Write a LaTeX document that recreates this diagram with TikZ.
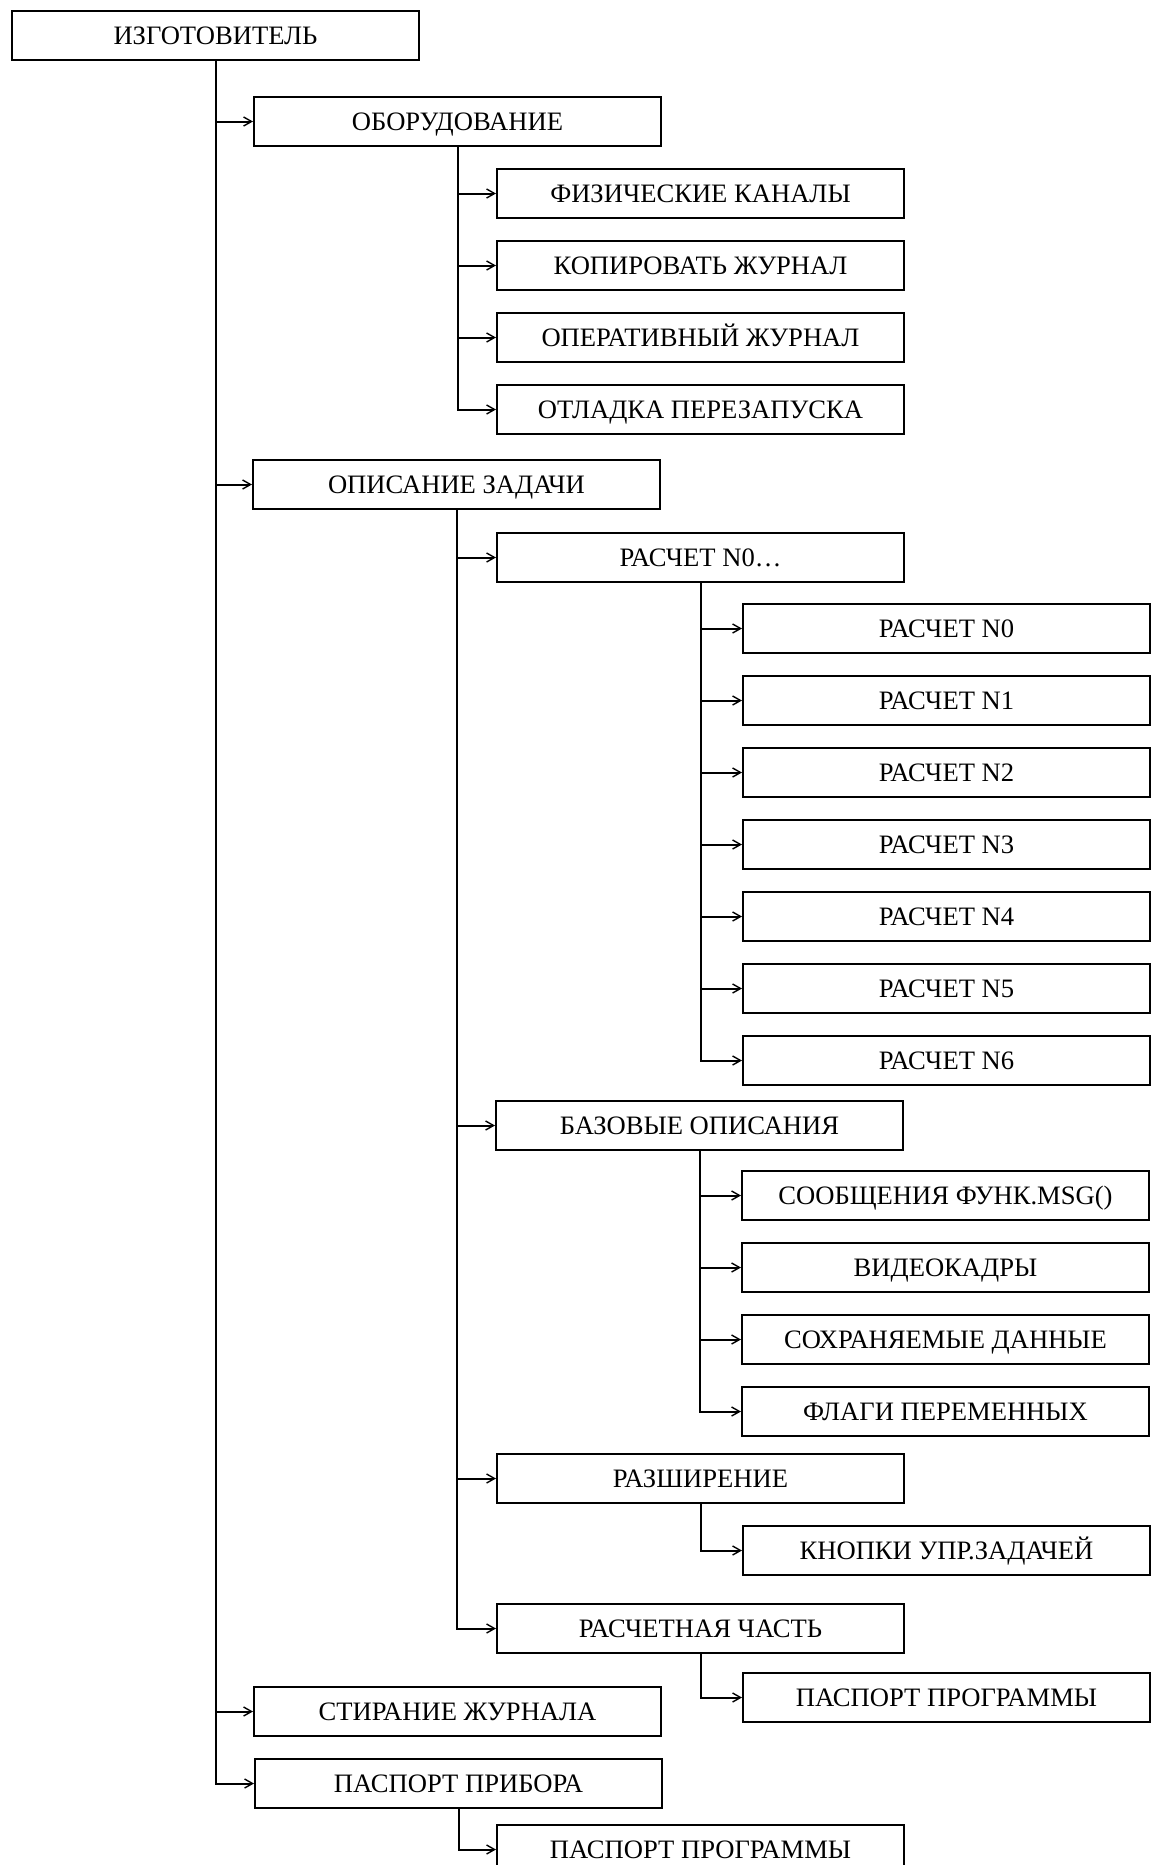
\documentclass[tikz,border=0pt]{standalone}
\usepackage{fontspec}
\setmainfont{Liberation Serif}
\usetikzlibrary{arrows.meta}
\tikzset{
  box/.style={draw, line width=1pt, minimum width=203.5pt, minimum height=24.5pt,
    anchor=north west, inner sep=0pt, text height=8.8pt, text depth=0pt,
    font=\fontsize{13.3}{15}\selectfont},
  conn/.style={line width=1pt, -{Straight Barb[length=4pt,width=4.5pt,line width=0.7pt]}},
}
\begin{document}
\begin{tikzpicture}[x=0.5pt,y=-0.5pt]
\useasboundingbox (0,0) rectangle (1154,1865);
\clip (0,0) rectangle (1154,1865);
\fill[white] (0,0) rectangle (1154,1865);
% level 0
\node[box] (A) at (11,10) {ИЗГОТОВИТЕЛЬ};
% level 1
\node[box] (B1) at (253,96) {ОБОРУДОВАНИЕ};
\node[box] (B2) at (252,459) {ОПИСАНИЕ ЗАДАЧИ};
\node[box] (B3) at (253,1686) {СТИРАНИЕ ЖУРНАЛА};
\node[box] (B4) at (254,1758) {ПАСПОРТ ПРИБОРА};
% under ОБОРУДОВАНИЕ
\node[box] (C1) at (496,168) {ФИЗИЧЕСКИЕ КАНАЛЫ};
\node[box] (C2) at (496,240) {КОПИРОВАТЬ ЖУРНАЛ};
\node[box] (C3) at (496,312) {ОПЕРАТИВНЫЙ ЖУРНАЛ};
\node[box] (C4) at (496,384) {ОТЛАДКА ПЕРЕЗАПУСКА};
% under ОПИСАНИЕ ЗАДАЧИ
\node[box] (D1) at (496,532) {РАСЧЕТ N0\ldots};
\node[box] (D2) at (495,1100) {БАЗОВЫЕ ОПИСАНИЯ};
\node[box] (D3) at (496,1453) {РАЗШИРЕНИЕ};
\node[box] (D4) at (496,1603) {РАСЧЕТНАЯ ЧАСТЬ};
% under РАСЧЕТ N0...
\node[box] (E0) at (742,603) {РАСЧЕТ N0};
\node[box] (E1) at (742,675) {РАСЧЕТ N1};
\node[box] (E2) at (742,747) {РАСЧЕТ N2};
\node[box] (E3) at (742,819) {РАСЧЕТ N3};
\node[box] (E4) at (742,891) {РАСЧЕТ N4};
\node[box] (E5) at (742,963) {РАСЧЕТ N5};
\node[box] (E6) at (742,1035) {РАСЧЕТ N6};
% under БАЗОВЫЕ ОПИСАНИЯ
\node[box] (F1) at (741,1170) {СООБЩЕНИЯ ФУНК.MSG()};
\node[box] (F2) at (741,1242) {ВИДЕОКАДРЫ};
\node[box] (F3) at (741,1314) {СОХРАНЯЕМЫЕ ДАННЫЕ};
\node[box] (F4) at (741,1386) {ФЛАГИ ПЕРЕМЕННЫХ};
% under РАЗШИРЕНИЕ / РАСЧЕТНАЯ ЧАСТЬ
\node[box] (G1) at (742,1525) {КНОПКИ УПР.ЗАДАЧЕЙ};
\node[box] (G2) at (742,1672) {ПАСПОРТ ПРОГРАММЫ};
% under ПАСПОРТ ПРИБОРА
\node[box] (H) at (496,1824) {ПАСПОРТ ПРОГРАММЫ};
% connectors
\foreach \c in {B1,B2,B3,B4} \draw[conn] (A.south) |- (\c.west);
\foreach \c in {C1,C2,C3,C4} \draw[conn] (B1.south) |- (\c.west);
\foreach \c in {D1,D2,D3,D4} \draw[conn] (B2.south) |- (\c.west);
\foreach \c in {E0,E1,E2,E3,E4,E5,E6} \draw[conn] (D1.south) |- (\c.west);
\foreach \c in {F1,F2,F3,F4} \draw[conn] (D2.south) |- (\c.west);
\draw[conn] (D3.south) |- (G1.west);
\draw[conn] (D4.south) |- (G2.west);
\draw[conn] (B4.south) |- (H.west);
\end{tikzpicture}
\end{document}
